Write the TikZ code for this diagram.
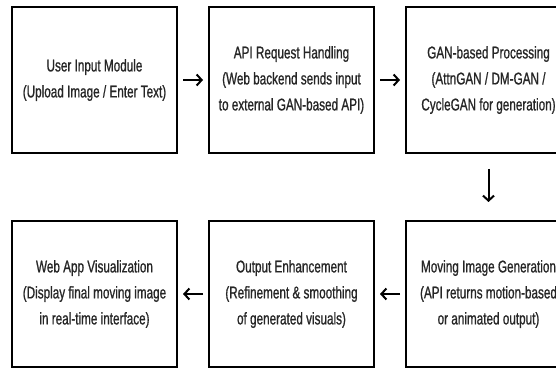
\documentclass[tikz,border=0pt]{standalone}
\usepackage{fontspec}
\usepackage{tikz}
\usetikzlibrary{positioning, arrows.meta}
\newfontfamily\narrowfont[FakeStretch=0.69, FakeBold=0.9]{Liberation Sans}
\tikzstyle{module} = [rectangle,
draw=black,
line width=2pt,
minimum width=165pt,
minimum height=146pt,
align=center,
text=black!85,
font=\narrowfont\fontsize{17}{26}\selectfont]
\tikzstyle{flow} = [line width=2pt,
-{Straight Barb[length=5pt,width=11pt]},
shorten <=5pt, shorten >=5pt]

\begin{document}
\begin{tikzpicture}[x=1pt, y=1pt, node distance=30pt]
    \clip (0,0) rectangle (556,367);

    % top row
    \node (user) [module] at (94.5,287) {User Input Module\\(Upload Image / Enter Text)};
    \node (api) [module, right=of user] {API Request Handling\\(Web backend sends input\\to external GAN-based API)};
    \node (gan) [module, right=of api] {GAN-based Processing\\(AttnGAN / DM-GAN /\\CycleGAN for generation)};

    % bottom row
    \node (motion) [module, below=66pt of gan] {Moving Image Generation\\(API returns motion-based\\or animated output)};
    \node (enhance) [module, left=of motion] {Output Enhancement\\(Refinement \& smoothing\\of generated visuals)};
    \node (webapp) [module, left=of enhance] {Web App Visualization\\(Display final moving image\\in real-time interface)};

    % arrows
    \draw[flow] (user) -- (api);
    \draw[flow] (api) -- (gan);
    \draw[flow, shorten <=15pt, shorten >=18pt] (gan) -- (motion);
    \draw[flow] (motion) -- (enhance);
    \draw[flow] (enhance) -- (webapp);

\end{tikzpicture}
\end{document}
